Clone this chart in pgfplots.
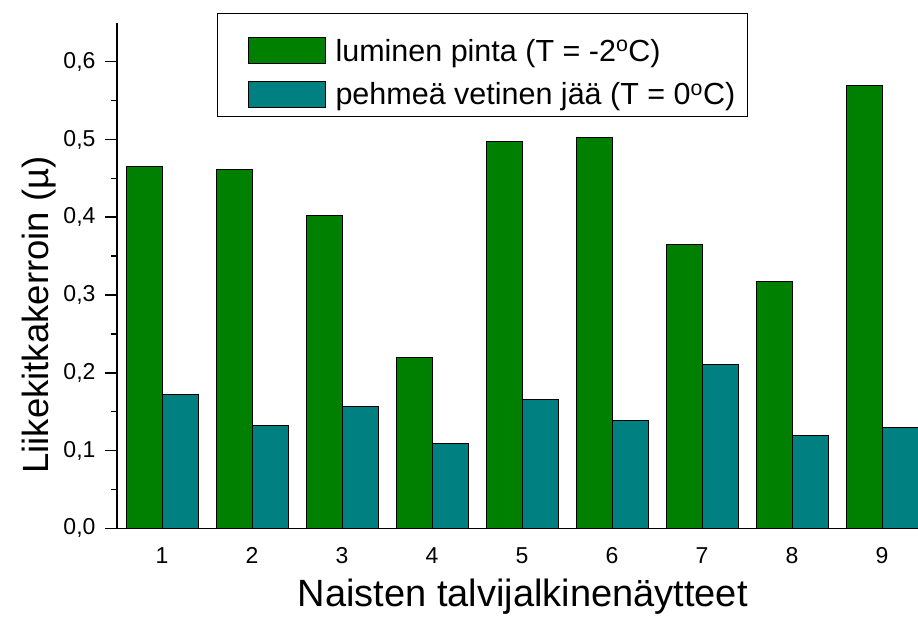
\documentclass[border=0pt]{standalone}
\usepackage{pgfplots}
\pgfplotsset{compat=1.18}
\usepackage{fontspec}
\setmainfont{Liberation Sans}
\definecolor{barGreen}{RGB}{0,128,0}
\definecolor{barTeal}{RGB}{0,128,128}

% coefficient of kinetic friction, winter shoe samples 1-9
\pgfplotstableread{
n snow ice
1 0.465 0.172
2 0.462 0.132
3 0.402 0.157
4 0.220 0.109
5 0.497 0.165
6 0.503 0.138
7 0.365 0.211
8 0.317 0.119
9 0.570 0.129
}\frictiondata

\begin{document}
\begin{tikzpicture}
\useasboundingbox (0pt,0pt) rectangle (918pt,616pt);
\clip (0pt,0pt) rectangle (918pt,616pt);
\begin{axis}[
  at={(117pt,87.7pt)}, anchor=south west,
  scale only axis, width=810pt, height=505.5pt,
  xmin=0.5, xmax=9.5, ymin=0, ymax=0.65,
  axis x line*=bottom, axis y line*=left,
  axis line style={line width=1.6pt},
  xtick={1,...,9},
  ytick={0,0.1,...,0.6},
  minor y tick num=1,
  tick align=outside,
  x tick style={draw=none},
  y tick style={line width=1.6pt, black},
  major tick length=12pt, minor tick length=6pt,
  /pgf/number format/assume math mode=true,
  ticklabel style={font=\fontsize{23}{27}\selectfont},
  yticklabel style={/pgf/number format/.cd, fixed, fixed zerofill, precision=1, use comma,
    /tikz/.cd, xshift=-6pt},
  xticklabel style={yshift=-4pt},
  xlabel={Naisten talvijalkinenäytteet},
  ylabel={Liikekitkakerroin (\textmu)},
  xlabel style={font=\fontsize{38}{44}\selectfont,
    at={(axis description cs:0.501,0)}, anchor=base, yshift=-78pt},
  ylabel style={font=\fontsize{36.5}{42}\selectfont,
    at={(axis description cs:-0.085,0.422)}, anchor=base},
  legend style={draw=black, line width=1pt, at={(axis description cs:0.1235,1.019)},
    anchor=north west, font=\fontsize{30.5}{34}\selectfont,
    inner xsep=10pt, inner ysep=8pt, row sep=1pt,
    legend cell align=left},
  legend image code/.code={
    \path[draw=none, fill=none] (0pt,-13pt) rectangle (106pt,29pt);
    \draw[#1, line width=1pt] (21pt,-13pt) rectangle (98pt,13pt);},
]
\addplot[ybar, bar width=0.4, bar shift=-0.2, fill=barGreen, draw=black, line width=1pt]
  table[x=n, y=snow] {\frictiondata};
\addlegendentry{luminen pinta (T = -2\textsuperscript{o}C)}
\addplot[ybar, bar width=0.4, bar shift=0.2, fill=barTeal, draw=black, line width=1pt]
  table[x=n, y=ice] {\frictiondata};
\addlegendentry{pehmeä vetinen jää (T = 0\textsuperscript{o}C)}
\end{axis}
\end{tikzpicture}
\end{document}
